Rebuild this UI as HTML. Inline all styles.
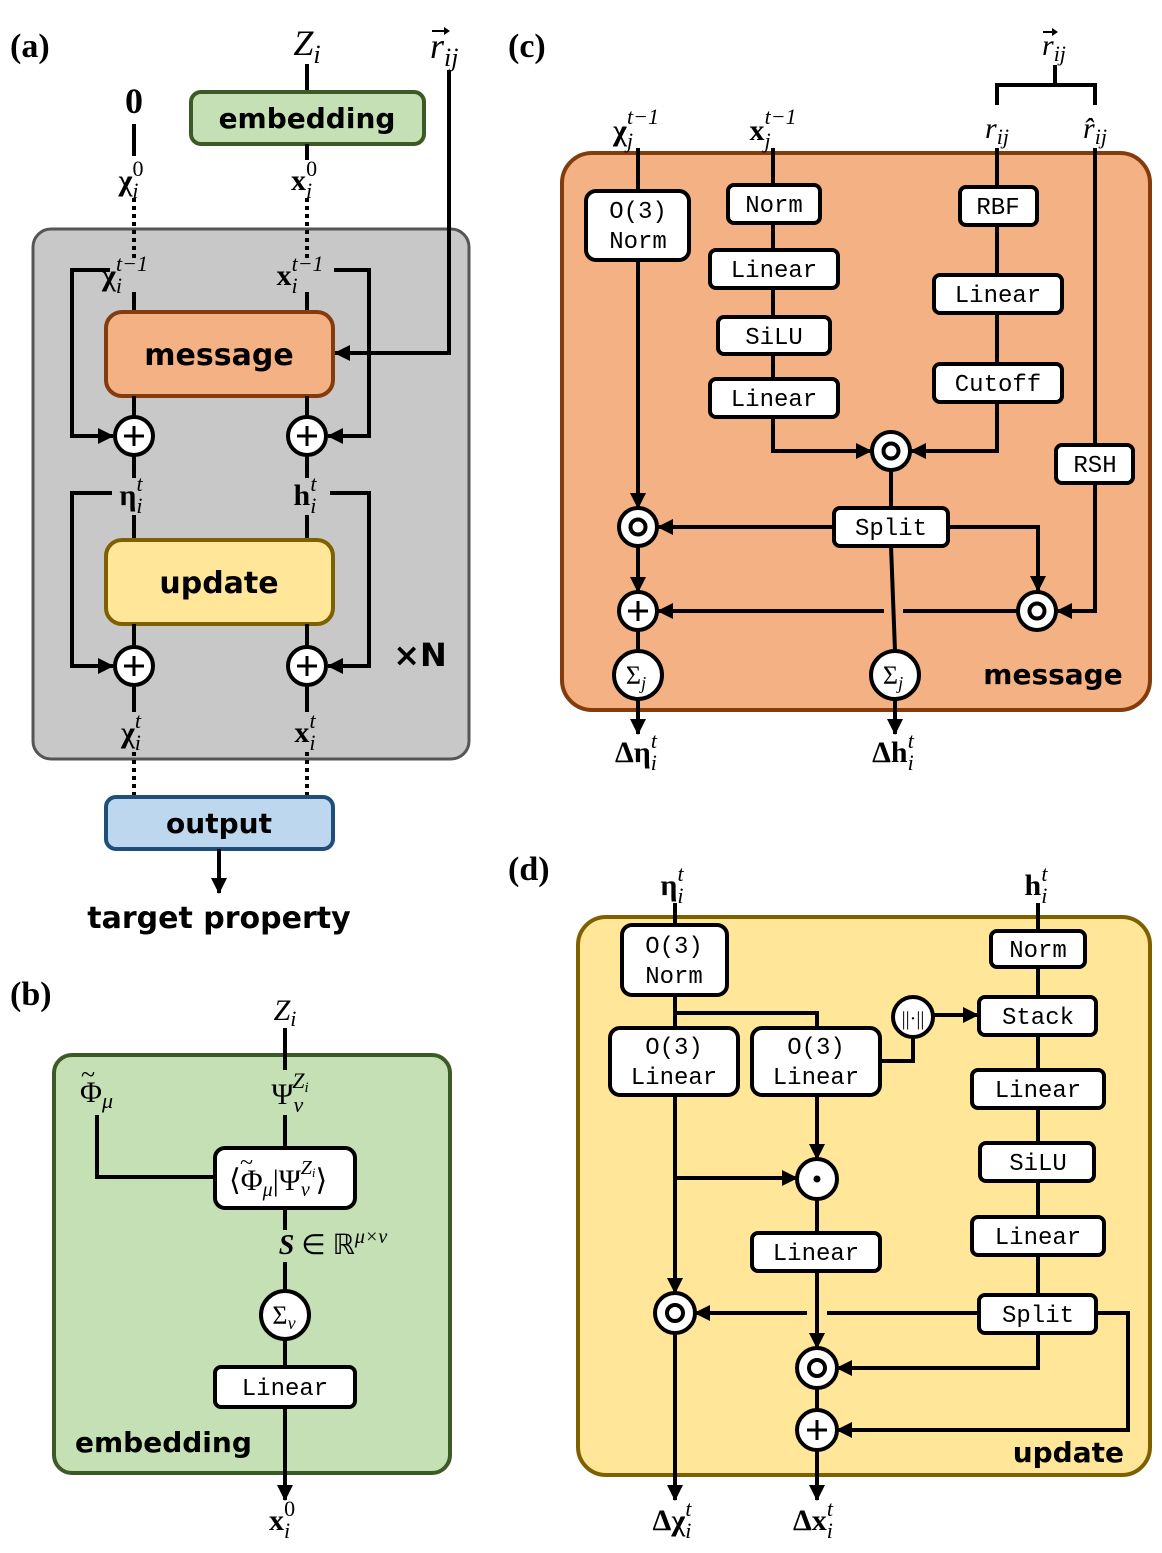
<!DOCTYPE html>
<html><head><meta charset="utf-8"><style>
html,body{margin:0;padding:0;background:#fff;}
svg{display:block;}
.m{font-family:"Liberation Mono","DejaVu Sans Mono",monospace;font-size:24px;text-anchor:middle;}
.b{font-family:"DejaVu Sans","Liberation Sans",sans-serif;font-weight:bold;text-anchor:middle;}
.s{font-family:"Liberation Serif",serif;text-anchor:middle;}
.i{font-style:italic;}
.bb{font-weight:bold;}
.ln{stroke:#000;stroke-width:4;fill:none;}
.dt{stroke:#000;stroke-width:4;fill:none;stroke-dasharray:4 4;}
.bx{fill:#fff;stroke:#000;stroke-width:4;}
.sb{font-size:22px;font-weight:normal;font-style:italic;}
</style></head><body>
<svg width="1162" height="1553" viewBox="0 0 1162 1553" xmlns="http://www.w3.org/2000/svg">
<defs>
<marker id="a" markerUnits="userSpaceOnUse" markerWidth="16" markerHeight="16" refX="15" refY="8" orient="auto"><path d="M0,0 L16,8 L0,16 z" fill="#000"/></marker>
</defs>

<!-- ===== (a) ===== -->
<text x="10" y="57" class="s bb" style="font-size:34px;text-anchor:start">(a)</text>
<rect x="33" y="229" width="436" height="530" rx="18" fill="#c8c8c8" stroke="#555" stroke-width="3"/>
<text x="134" y="113" class="s bb" style="font-size:36px">0</text>
<line x1="134" y1="124" x2="134" y2="156" class="ln"/>
<text x="131" y="190" class="s bb" style="font-size:30px">χ<tspan class="sb" dy="8">i</tspan><tspan class="sb" style="font-style:normal" dx="-6" dy="-22">0</tspan></text>
<line x1="134" y1="198" x2="134" y2="262" class="dt"/>
<text x="307" y="55" class="s i" style="font-size:36px">Z<tspan style="font-size:26px" dy="8">i</tspan></text>
<line x1="307" y1="64" x2="307" y2="92" class="ln"/>
<rect x="191" y="92" width="233" height="52" rx="10" fill="#c5e0b4" stroke="#3b5a25" stroke-width="4"/>
<text x="307" y="128" class="b" style="font-size:28px">embedding</text>
<line x1="307" y1="144" x2="307" y2="160" class="ln"/>
<text x="304" y="190" class="s bb" style="font-size:30px">x<tspan class="sb" dy="8">i</tspan><tspan class="sb" style="font-style:normal" dx="-6" dy="-22">0</tspan></text>
<line x1="307" y1="198" x2="307" y2="262" class="dt"/>
<text x="430" y="58" class="s i" style="font-size:36px;text-anchor:start">r<tspan style="font-size:26px" dy="8">ij</tspan></text>
<path d="M432,31 L446,31" class="ln" style="stroke-width:2"/><path d="M444,27 L450,31 L444,35 z" fill="#000"/>
<polyline points="449,70 449,353 335,353" class="ln" marker-end="url(#a)"/>
<text x="125" y="285" class="s bb" style="font-size:30px">χ<tspan class="sb" dy="8">i</tspan><tspan class="sb" dx="-6" dy="-22">t−1</tspan></text>
<text x="300" y="285" class="s bb" style="font-size:30px">x<tspan class="sb" dy="8">i</tspan><tspan class="sb" dx="-6" dy="-22">t−1</tspan></text>
<polyline points="110,270 72,270 72,436 113,436" class="ln" marker-end="url(#a)"/>
<polyline points="334,270 369,270 369,436 328,436" class="ln" marker-end="url(#a)"/>
<line x1="134" y1="292" x2="134" y2="312" class="ln"/><line x1="307" y1="292" x2="307" y2="312" class="ln"/>
<rect x="106" y="312" width="227" height="84" rx="16" fill="#f4b183" stroke="#843c0c" stroke-width="4"/>
<text x="219" y="365" class="b" style="font-size:30px">message</text>
<line x1="134" y1="396" x2="134" y2="418" class="ln"/><line x1="307" y1="396" x2="307" y2="418" class="ln"/>
<g><circle cx="134" cy="436" r="19" class="bx"/><path d="M124,436h20M134,426v20" class="ln" style="stroke-width:3"/></g>
<g><circle cx="307" cy="436" r="19" class="bx"/><path d="M297,436h20M307,426v20" class="ln" style="stroke-width:3"/></g>
<line x1="134" y1="455" x2="134" y2="478" class="ln"/><line x1="307" y1="455" x2="307" y2="478" class="ln"/>
<text x="131" y="505" class="s bb" style="font-size:30px">η<tspan class="sb" dy="8">i</tspan><tspan class="sb" dx="-6" dy="-22">t</tspan></text>
<text x="305" y="505" class="s bb" style="font-size:30px">h<tspan class="sb" dy="8">i</tspan><tspan class="sb" dx="-6" dy="-22">t</tspan></text>
<polyline points="112,493 72,493 72,666 113,666" class="ln" marker-end="url(#a)"/>
<polyline points="330,493 369,493 369,666 328,666" class="ln" marker-end="url(#a)"/>
<line x1="134" y1="515" x2="134" y2="540" class="ln"/><line x1="307" y1="515" x2="307" y2="540" class="ln"/>
<rect x="106" y="540" width="227" height="84" rx="16" fill="#ffe699" stroke="#7f6000" stroke-width="4"/>
<text x="219" y="593" class="b" style="font-size:30px">update</text>
<line x1="134" y1="624" x2="134" y2="648" class="ln"/><line x1="307" y1="624" x2="307" y2="648" class="ln"/>
<g><circle cx="134" cy="666" r="19" class="bx"/><path d="M124,666h20M134,656v20" class="ln" style="stroke-width:3"/></g>
<g><circle cx="307" cy="666" r="19" class="bx"/><path d="M297,666h20M307,656v20" class="ln" style="stroke-width:3"/></g>
<line x1="134" y1="685" x2="134" y2="712" class="ln"/><line x1="307" y1="685" x2="307" y2="712" class="ln"/>
<text x="420" y="666" class="b" style="font-size:32px">×N</text>
<text x="131" y="742" class="s bb" style="font-size:30px">χ<tspan class="sb" dy="8">i</tspan><tspan class="sb" dx="-6" dy="-22">t</tspan></text>
<text x="305" y="742" class="s bb" style="font-size:30px">x<tspan class="sb" dy="8">i</tspan><tspan class="sb" dx="-6" dy="-22">t</tspan></text>
<line x1="134" y1="752" x2="134" y2="797" class="dt"/><line x1="307" y1="752" x2="307" y2="797" class="dt"/>
<rect x="106" y="797" width="227" height="52" rx="10" fill="#bdd7ee" stroke="#1f4e79" stroke-width="4"/>
<text x="219" y="833" class="b" style="font-size:28px">output</text>
<line x1="219" y1="849" x2="219" y2="893" class="ln" marker-end="url(#a)"/>
<text x="219" y="928" class="b" style="font-size:30px">target property</text>

<!-- ===== (b) ===== -->
<text x="10" y="1005" class="s bb" style="font-size:34px;text-anchor:start">(b)</text>
<rect x="54" y="1055" width="396" height="418" rx="18" fill="#c5e0b4" stroke="#3b5a25" stroke-width="4"/>
<text x="285" y="1020" class="s i" style="font-size:30px">Z<tspan style="font-size:22px" dy="6">i</tspan></text>
<line x1="285" y1="1028" x2="285" y2="1070" class="ln"/>
<text x="80" y="1102" class="s" style="font-size:30px;text-anchor:start">Φ<tspan class="i" style="font-size:22px" dy="6">μ</tspan></text>
<text x="81" y="1083" class="s" style="font-size:26px;text-anchor:start">~</text>
<text x="290" y="1104" class="s" style="font-size:30px">Ψ<tspan class="i" style="font-size:22px" dy="8">ν</tspan><tspan class="i" style="font-size:22px" dx="-11" dy="-24">Z</tspan><tspan class="i" style="font-size:15px" dy="4">i</tspan></text>
<polyline points="97,1115 97,1177 215,1177" class="ln"/>
<line x1="285" y1="1115" x2="285" y2="1148" class="ln"/>
<rect x="215" y="1148" width="140" height="60" rx="10" class="bx"/>
<text x="229" y="1190" class="s" style="font-size:30px;text-anchor:start">⟨Φ<tspan class="i" style="font-size:20px" dy="6">μ</tspan><tspan dy="-6">|Ψ</tspan><tspan class="i" style="font-size:20px" dy="6">ν</tspan><tspan class="i" style="font-size:20px" dx="-9" dy="-22">Z</tspan><tspan class="i" style="font-size:13px" dy="3">i</tspan><tspan dy="13">⟩</tspan></text>
<text x="240" y="1170" class="s" style="font-size:24px;text-anchor:start">~</text>
<line x1="285" y1="1208" x2="285" y2="1230" class="ln"/>
<text x="333" y="1254" class="s" style="font-size:28px"><tspan class="bb i">S</tspan> ∈ ℝ<tspan class="i" style="font-size:20px" dy="-11">μ×ν</tspan></text>
<line x1="285" y1="1262" x2="285" y2="1292" class="ln"/>
<circle cx="285" cy="1315" r="24" class="bx"/>
<text x="284" y="1324" class="s" style="font-size:26px">Σ<tspan class="i" style="font-size:18px" dy="5">ν</tspan></text>
<line x1="285" y1="1339" x2="285" y2="1367" class="ln"/>
<rect x="215" y="1367" width="140" height="40" rx="6" class="bx"/>
<text x="285" y="1395" class="m">Linear</text>
<line x1="285" y1="1407" x2="285" y2="1500" class="ln" marker-end="url(#a)"/>
<text x="282" y="1530" class="s bb" style="font-size:30px">x<tspan class="sb" dy="8">i</tspan><tspan class="sb" style="font-style:normal" dx="-6" dy="-22">0</tspan></text>
<text x="75" y="1452" class="b" style="font-size:28px;text-anchor:start">embedding</text>

<!-- ===== (c) ===== -->
<text x="508" y="57" class="s bb" style="font-size:34px;text-anchor:start">(c)</text>
<rect x="562" y="153" width="588" height="557" rx="30" fill="#f4b183" stroke="#843c0c" stroke-width="4"/>
<text x="636" y="140" class="s bb" style="font-size:30px">χ<tspan class="sb" dy="8">j</tspan><tspan class="sb" dx="-6" dy="-24">t−1</tspan></text>
<text x="773" y="140" class="s bb" style="font-size:30px">x<tspan class="sb" dy="8">j</tspan><tspan class="sb" dx="-6" dy="-24">t−1</tspan></text>
<text x="997" y="138" class="s i" style="font-size:30px">r<tspan style="font-size:22px" dy="6">ij</tspan></text>
<text x="1095" y="138" class="s i" style="font-size:30px">r̂<tspan style="font-size:22px" dy="6">ij</tspan></text>
<text x="1042" y="55" class="s i" style="font-size:30px;text-anchor:start">r<tspan style="font-size:22px" dy="6">ij</tspan></text>
<path d="M1043,32 L1054,32" class="ln" style="stroke-width:2"/><path d="M1052,28 L1058,32 L1052,36 z" fill="#000"/>
<polyline points="997,105 997,85 1095,85 1095,105" class="ln"/>
<line x1="1055" y1="65" x2="1055" y2="85" class="ln"/>
<line x1="638" y1="148" x2="638" y2="192" class="ln"/>
<rect x="586" y="191" width="103" height="69" rx="10" class="bx"/>
<text x="638" y="218" class="m">O(3)</text><text x="638" y="248" class="m">Norm</text>
<line x1="638" y1="260" x2="638" y2="508" class="ln" marker-end="url(#a)"/>
<line x1="773" y1="148" x2="773" y2="417" class="ln"/>
<rect x="728" y="185" width="92" height="38" rx="6" class="bx"/><text x="774" y="212" class="m">Norm</text>
<rect x="710" y="250" width="128" height="38" rx="6" class="bx"/><text x="774" y="277" class="m">Linear</text>
<rect x="718" y="317" width="112" height="37" rx="6" class="bx"/><text x="774" y="344" class="m">SiLU</text>
<rect x="710" y="379" width="128" height="38" rx="6" class="bx"/><text x="774" y="406" class="m">Linear</text>
<polyline points="773,417 773,451 871,451" class="ln" marker-end="url(#a)"/>
<line x1="997" y1="148" x2="997" y2="402" class="ln"/>
<rect x="960" y="187" width="77" height="38" rx="6" class="bx"/><text x="998" y="214" class="m">RBF</text>
<rect x="934" y="275" width="128" height="38" rx="6" class="bx"/><text x="998" y="302" class="m">Linear</text>
<rect x="934" y="364" width="128" height="38" rx="6" class="bx"/><text x="998" y="391" class="m">Cutoff</text>
<polyline points="997,402 997,451 911,451" class="ln" marker-end="url(#a)"/>
<line x1="1095" y1="148" x2="1095" y2="445" class="ln"/>
<rect x="1056" y="445" width="77" height="38" rx="6" class="bx"/><text x="1095" y="472" class="m">RSH</text>
<polyline points="1095,483 1095,611 1057,611" class="ln" marker-end="url(#a)"/>
<line x1="891" y1="470" x2="891" y2="508" class="ln"/>
<line x1="891" y1="546" x2="895" y2="651" class="ln"/>
<line x1="834" y1="527" x2="658" y2="527" class="ln" marker-end="url(#a)"/>
<polyline points="948,527 1038,527 1038,591" class="ln" marker-end="url(#a)"/>
<line x1="1017" y1="611" x2="903" y2="611" class="ln"/>
<line x1="884" y1="611" x2="658" y2="611" class="ln" marker-end="url(#a)"/>
<rect x="834" y="508" width="114" height="38" rx="6" class="bx"/><text x="891" y="535" class="m">Split</text>
<g><circle cx="891" cy="451" r="19" class="bx"/><circle cx="891" cy="451" r="7.5" class="ln"/></g>
<g><circle cx="638" cy="527" r="19" class="bx"/><circle cx="638" cy="527" r="7.5" class="ln"/></g>
<g><circle cx="1037" cy="611" r="19" class="bx"/><circle cx="1037" cy="611" r="7.5" class="ln"/></g>
<line x1="638" y1="546" x2="638" y2="592" class="ln" marker-end="url(#a)"/>
<g><circle cx="638" cy="611" r="19" class="bx"/><path d="M628,611h20M638,601v20" class="ln" style="stroke-width:3"/></g>
<line x1="638" y1="630" x2="638" y2="651" class="ln"/>
<circle cx="638" cy="675" r="24" class="bx"/>
<text x="636" y="684" class="s" style="font-size:26px">Σ<tspan class="i" style="font-size:18px" dy="5">j</tspan></text>
<circle cx="895" cy="675" r="24" class="bx"/>
<text x="893" y="684" class="s" style="font-size:26px">Σ<tspan class="i" style="font-size:18px" dy="5">j</tspan></text>
<line x1="638" y1="699" x2="638" y2="734" class="ln" marker-end="url(#a)"/>
<line x1="895" y1="699" x2="895" y2="734" class="ln" marker-end="url(#a)"/>
<text x="636" y="762" class="s bb" style="font-size:30px">Δη<tspan class="sb" dy="8">i</tspan><tspan class="sb" dx="-6" dy="-22">t</tspan></text>
<text x="893" y="762" class="s bb" style="font-size:30px">Δh<tspan class="sb" dy="8">i</tspan><tspan class="sb" dx="-6" dy="-22">t</tspan></text>
<text x="1053" y="684" class="b" style="font-size:28px">message</text>

<!-- ===== (d) ===== -->
<text x="508" y="880" class="s bb" style="font-size:34px;text-anchor:start">(d)</text>
<rect x="578" y="917" width="572" height="558" rx="28" fill="#ffe699" stroke="#7f6000" stroke-width="4"/>
<text x="672" y="895" class="s bb" style="font-size:30px">η<tspan class="sb" dy="8">i</tspan><tspan class="sb" dx="-6" dy="-22">t</tspan></text>
<text x="1036" y="895" class="s bb" style="font-size:30px">h<tspan class="sb" dy="8">i</tspan><tspan class="sb" dx="-6" dy="-22">t</tspan></text>
<line x1="675" y1="903" x2="675" y2="925" class="ln"/>
<line x1="1038" y1="903" x2="1038" y2="1295" class="ln"/>
<rect x="622" y="925" width="105" height="70" rx="10" class="bx"/>
<text x="674" y="953" class="m">O(3)</text><text x="674" y="983" class="m">Norm</text>
<line x1="675" y1="995" x2="675" y2="1028" class="ln"/>
<polyline points="675,1013 817,1013 817,1028" class="ln"/>
<rect x="610" y="1028" width="128" height="67" rx="10" class="bx"/>
<text x="674" y="1054" class="m">O(3)</text><text x="674" y="1084" class="m">Linear</text>
<rect x="752" y="1028" width="128" height="67" rx="10" class="bx"/>
<text x="816" y="1054" class="m">O(3)</text><text x="816" y="1084" class="m">Linear</text>
<polyline points="880,1061 913,1061 913,1037" class="ln"/>
<circle cx="913" cy="1017" r="20" class="bx"/>
<text x="913" y="1025" class="s" style="font-size:20px">||·||</text>
<line x1="933" y1="1015" x2="978" y2="1015" class="ln" marker-end="url(#a)"/>
<rect x="991" y="931" width="94" height="36" rx="6" class="bx"/><text x="1038" y="957" class="m">Norm</text>
<rect x="979" y="997" width="117" height="38" rx="6" class="bx"/><text x="1038" y="1024" class="m">Stack</text>
<rect x="972" y="1070" width="132" height="38" rx="6" class="bx"/><text x="1038" y="1097" class="m">Linear</text>
<rect x="980" y="1143" width="114" height="38" rx="6" class="bx"/><text x="1038" y="1170" class="m">SiLU</text>
<rect x="972" y="1217" width="132" height="38" rx="6" class="bx"/><text x="1038" y="1244" class="m">Linear</text>
<line x1="817" y1="1095" x2="817" y2="1159" class="ln" marker-end="url(#a)"/>
<line x1="675" y1="1095" x2="675" y2="1293" class="ln" marker-end="url(#a)"/>
<line x1="675" y1="1178" x2="797" y2="1178" class="ln" marker-end="url(#a)"/>
<circle cx="817" cy="1179" r="20" class="bx"/><circle cx="817" cy="1179" r="3.5" fill="#000"/>
<line x1="817" y1="1199" x2="817" y2="1233" class="ln"/>
<rect x="752" y="1233" width="128" height="38" rx="6" class="bx"/><text x="816" y="1260" class="m">Linear</text>
<line x1="817" y1="1271" x2="817" y2="1348" class="ln" marker-end="url(#a)"/>
<line x1="979" y1="1313" x2="827" y2="1313" class="ln"/>
<line x1="807" y1="1313" x2="695" y2="1313" class="ln" marker-end="url(#a)"/>
<polyline points="1038,1333 1038,1368 837,1368" class="ln" marker-end="url(#a)"/>
<polyline points="1096,1313 1128,1313 1128,1430 837,1430" class="ln" marker-end="url(#a)"/>
<rect x="979" y="1295" width="117" height="38" rx="6" class="bx"/><text x="1038" y="1322" class="m">Split</text>
<g><circle cx="675" cy="1313" r="20" class="bx"/><circle cx="675" cy="1313" r="8" class="ln"/></g>
<g><circle cx="817" cy="1368" r="20" class="bx"/><circle cx="817" cy="1368" r="8" class="ln"/></g>
<line x1="817" y1="1388" x2="817" y2="1410" class="ln"/>
<g><circle cx="817" cy="1430" r="20" class="bx"/><path d="M807,1430h20M817,1420v20" class="ln" style="stroke-width:3"/></g>
<line x1="817" y1="1450" x2="817" y2="1500" class="ln" marker-end="url(#a)"/>
<line x1="675" y1="1333" x2="675" y2="1500" class="ln" marker-end="url(#a)"/>
<text x="672" y="1530" class="s bb" style="font-size:30px">Δχ<tspan class="sb" dy="8">i</tspan><tspan class="sb" dx="-6" dy="-22">t</tspan></text>
<text x="813" y="1530" class="s bb" style="font-size:30px">Δx<tspan class="sb" dy="8">i</tspan><tspan class="sb" dx="-6" dy="-22">t</tspan></text>
<text x="1124" y="1462" class="b" style="font-size:28px;text-anchor:end">update</text>
</svg>
</body></html>
